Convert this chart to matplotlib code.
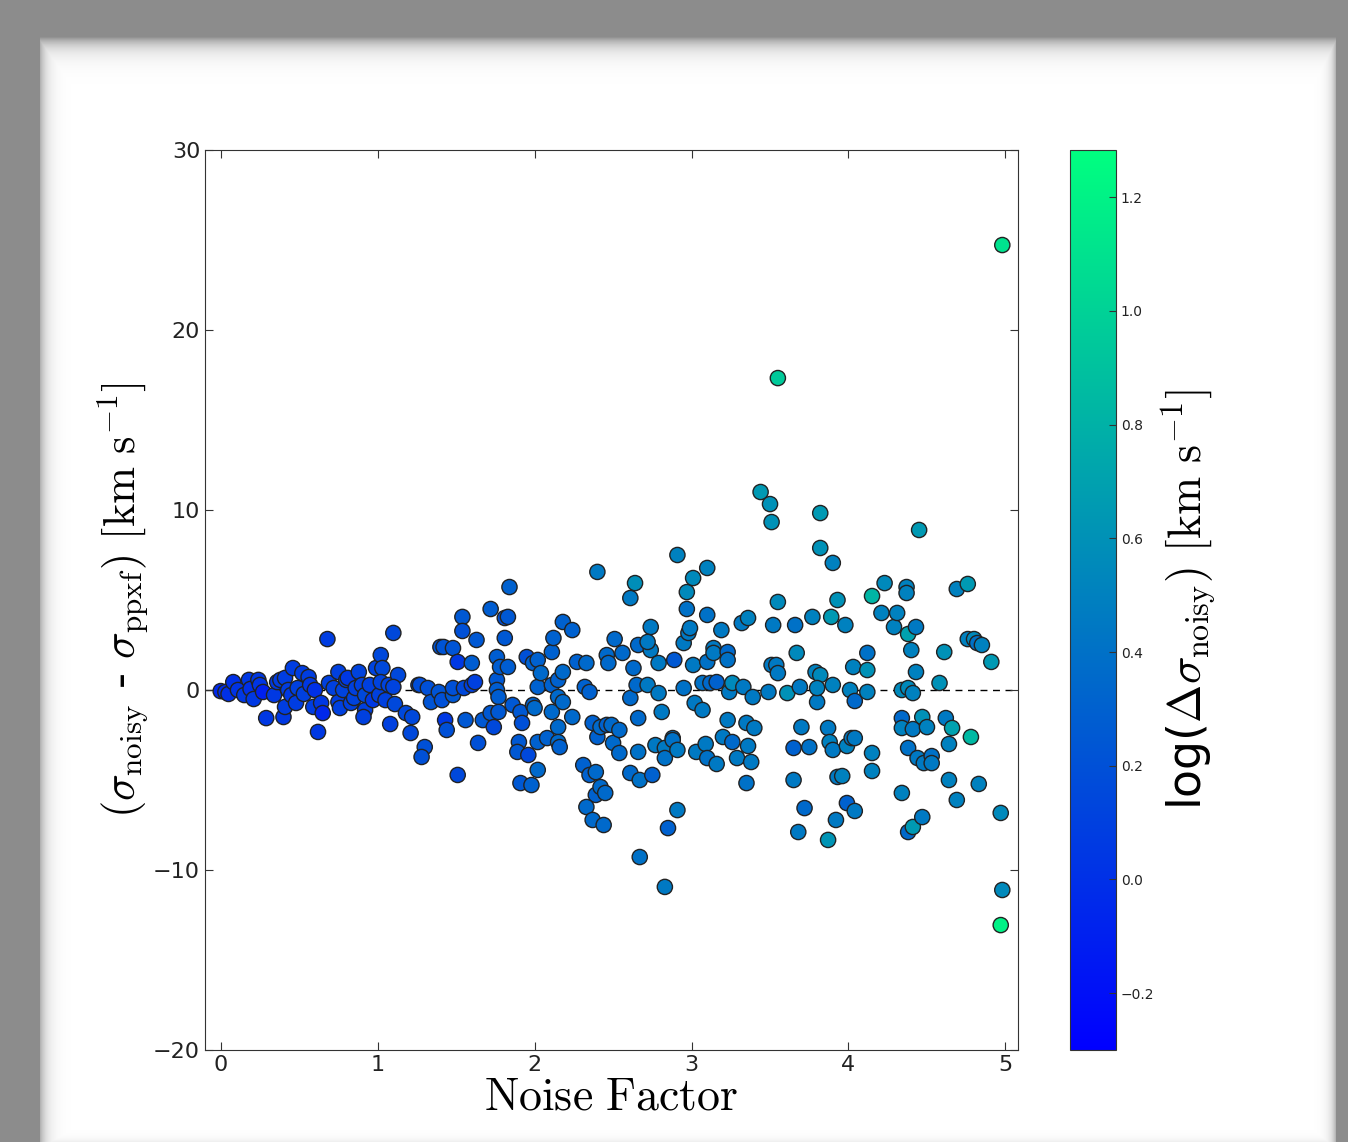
import numpy as np
import matplotlib
matplotlib.use('Agg')
import matplotlib.pyplot as plt

plt.rcParams['mathtext.fontset'] = 'cm'
plt.rcParams['font.family'] = 'DejaVu Sans'

# noise factor, (sigma_noisy - sigma_ppxf) [km/s], log(delta sigma_noisy)
pts = [
    (0.00, -0.06, -0.05), (0.03, -0.11, -0.02), (0.05, -0.22, 0.00), (0.08, 0.44, 0.00),
    (0.11, 0.00, 0.02), (0.15, -0.28, 0.05), (0.18, 0.56, 0.05), (0.19, 0.06, 0.00),
    (0.21, -0.50, 0.05), (0.24, 0.56, 0.05), (0.25, 0.28, 0.03), (0.27, -0.11, -0.10),
    (0.29, -1.56, 0.05), (0.34, -0.28, 0.05), (0.36, 0.44, 0.05), (0.38, 0.56, 0.08),
    (0.40, -1.50, 0.05), (0.41, 0.67, 0.08), (0.41, -0.94, 0.08), (0.43, 0.00, 0.08),
    (0.45, -0.28, 0.05), (0.46, 1.22, 0.08), (0.48, -0.72, 0.08), (0.49, 0.11, 0.10),
    (0.52, 0.94, 0.08), (0.53, -0.22, 0.10), (0.56, 0.72, 0.08), (0.57, 0.28, 0.05),
    (0.59, -0.94, 0.08), (0.60, 0.00, 0.00), (0.62, -2.33, 0.05), (0.64, -0.72, 0.05),
    (0.65, -1.28, -0.05), (0.68, 2.83, 0.08), (0.69, 0.39, 0.10), (0.72, 0.11, 0.10),
    (0.75, 1.00, 0.10), (0.75, -0.67, 0.08), (0.76, -1.00, 0.10), (0.78, 0.00, 0.12),
    (0.80, 0.56, 0.10), (0.81, 0.67, 0.05), (0.83, -0.72, 0.10), (0.85, -0.44, 0.12),
    (0.86, 0.11, 0.10), (0.88, 1.00, 0.12), (0.90, 0.28, 0.10), (0.92, -1.11, 0.10),
    (0.91, -1.50, 0.10), (0.92, -0.28, 0.15), (0.95, 0.28, 0.10), (0.97, -0.56, 0.05),
    (0.99, 1.22, 0.12), (1.01, -0.28, 0.10), (1.02, 1.94, 0.15), (1.03, 1.22, 0.15),
    (1.02, 0.44, 0.12), (1.05, -0.56, 0.10), (1.07, 0.28, 0.12), (1.08, -1.89, 0.10),
    (1.10, 3.17, 0.15), (1.11, -0.78, 0.15), (1.13, 0.83, 0.15), (1.10, 0.17, 0.12),
    (1.18, -1.28, 0.15), (1.21, -2.39, 0.15), (1.22, -1.50, 0.15), (1.26, 0.28, 0.15),
    (1.27, 0.28, 0.18), (1.30, -3.17, 0.20), (1.28, -3.72, 0.20), (1.32, 0.11, 0.20),
    (1.34, -0.67, 0.22), (1.39, -0.11, 0.22), (1.40, 2.39, 0.22), (1.42, 2.39, 0.22),
    (1.41, -0.56, 0.20), (1.43, -1.67, 0.05), (1.44, -2.22, 0.20), (1.48, 2.33, 0.22),
    (1.48, -0.28, 0.25), (1.48, 0.11, 0.20), (1.51, 1.56, 0.05), (1.51, -4.72, 0.15),
    (1.54, 4.06, 0.25), (1.54, 3.28, 0.20), (1.55, 0.11, 0.15), (1.56, -1.67, 0.25),
    (1.60, 1.50, 0.28), (1.60, 0.28, 0.10), (1.62, 0.44, 0.10), (1.63, 2.78, 0.25),
    (1.64, -2.94, 0.20), (1.67, -1.67, 0.25), (1.72, 4.50, 0.28), (1.72, -1.28, 0.25),
    (1.74, -2.06, 0.15), (1.76, 1.83, 0.28), (1.76, 0.56, 0.25), (1.76, 0.00, 0.28),
    (1.77, -0.39, 0.28), (1.77, -1.22, 0.25), (1.78, 1.28, 0.28), (1.81, 2.89, 0.25),
    (1.81, 4.00, 0.20), (1.83, 4.06, 0.25), (1.83, 1.28, 0.28), (1.84, 5.72, 0.30),
    (1.86, -0.83, 0.25), (1.90, -2.89, 0.25), (1.89, -3.44, 0.25), (1.91, -1.22, 0.25),
    (1.92, -1.83, 0.20), (1.91, -5.17, 0.25), (1.95, 1.83, 0.20), (1.96, -3.61, 0.15),
    (1.98, -5.28, 0.30), (1.99, 1.50, 0.30), (1.99, -0.83, 0.30), (2.00, -1.00, 0.35),
    (2.02, 0.17, 0.30), (2.02, -4.44, 0.35), (2.02, 1.67, 0.30), (2.04, 0.94, 0.35),
    (2.02, -2.89, 0.30), (2.08, -2.67, 0.30), (2.11, 0.28, 0.30), (2.11, -1.22, 0.35),
    (2.11, 2.11, 0.30), (2.12, 2.89, 0.30), (2.15, 0.56, 0.30), (2.15, -0.39, 0.35),
    (2.15, -2.06, 0.35), (2.15, -2.89, 0.35), (2.16, -3.17, 0.30), (2.18, -0.67, 0.35),
    (2.18, 1.00, 0.35), (2.18, 3.78, 0.30), (2.24, 3.33, 0.30), (2.24, -1.50, 0.35),
    (2.27, 1.56, 0.30), (2.31, -4.17, 0.30), (2.32, 0.17, 0.30), (2.33, 1.50, 0.35),
    (2.35, -0.11, 0.30), (2.35, -4.72, 0.30), (2.37, -1.83, 0.30), (2.39, -4.56, 0.35),
    (2.39, -5.83, 0.30), (2.40, -2.61, 0.30), (2.42, -5.39, 0.35), (2.42, -2.06, 0.35),
    (2.45, -5.72, 0.35), (2.33, -6.50, 0.35), (2.37, -7.22, 0.35), (2.44, -7.50, 0.35),
    (2.46, -1.94, 0.30), (2.46, 1.94, 0.35), (2.47, 1.50, 0.35), (2.49, -1.94, 0.35),
    (2.50, -2.94, 0.35), (2.51, 2.83, 0.35), (2.54, -3.50, 0.35), (2.54, -2.22, 0.35),
    (2.56, 2.06, 0.35), (2.61, 5.11, 0.45), (2.64, 5.94, 0.58), (2.40, 6.56, 0.45),
    (2.61, -0.44, 0.35), (2.61, -4.61, 0.35), (2.63, 1.22, 0.35), (2.65, 0.28, 0.35),
    (2.66, 2.50, 0.35), (2.66, -1.56, 0.35), (2.67, -9.28, 0.40), (2.66, -3.44, 0.40),
    (2.67, -5.00, 0.40), (2.72, 0.28, 0.45), (2.74, 3.50, 0.45), (2.74, 2.22, 0.45),
    (2.72, 2.67, 0.45), (2.77, -3.06, 0.45), (2.75, -4.72, 0.30), (2.79, 1.50, 0.45),
    (2.79, -0.17, 0.45), (2.81, -1.22, 0.45), (2.83, -3.22, 0.45), (2.83, -3.78, 0.40),
    (2.83, -10.94, 0.45), (2.85, -7.67, 0.30), (2.88, -2.67, 0.40), (2.88, -2.78, 0.40),
    (2.91, -3.33, 0.45), (2.91, -6.67, 0.45), (2.91, 7.50, 0.50), (2.89, 1.67, 0.25),
    (2.95, 0.11, 0.40), (2.95, 2.61, 0.45), (2.97, 4.50, 0.40), (2.97, 5.44, 0.55),
    (2.98, 3.17, 0.45), (2.99, 3.44, 0.45), (3.01, 6.22, 0.55), (3.01, 1.39, 0.45),
    (3.02, -0.72, 0.45), (3.03, -3.44, 0.45), (3.07, 0.39, 0.40), (3.07, -1.11, 0.45),
    (3.09, -3.00, 0.45), (3.10, -3.78, 0.40), (3.10, 4.17, 0.40), (3.10, 6.78, 0.50),
    (3.10, 1.56, 0.40), (3.12, 0.39, 0.35), (3.14, 2.33, 0.45), (3.14, 2.06, 0.45),
    (3.16, 0.44, 0.30), (3.16, -4.11, 0.45), (3.19, 3.33, 0.45), (3.20, -2.61, 0.45),
    (3.23, -1.67, 0.45), (3.23, 2.11, 0.35), (3.23, 1.67, 0.40), (3.24, -0.11, 0.45),
    (3.26, -2.89, 0.35), (3.26, 0.39, 0.55), (3.29, -3.78, 0.45), (3.32, 3.72, 0.45),
    (3.33, 0.17, 0.45), (3.35, -1.83, 0.45), (3.36, 4.00, 0.50), (3.36, -3.11, 0.45),
    (3.38, -4.00, 0.45), (3.35, -5.17, 0.40), (3.39, -0.39, 0.45), (3.40, -2.11, 0.45),
    (3.49, -0.11, 0.45), (3.52, 3.61, 0.45), (3.51, 1.39, 0.45), (3.54, 1.39, 0.45),
    (3.55, 4.89, 0.55), (3.55, 0.94, 0.45), (3.61, -0.17, 0.60), (3.65, -3.22, 0.30),
    (3.65, -5.00, 0.45), (3.66, 3.61, 0.40), (3.67, 2.06, 0.55), (3.68, -7.89, 0.45),
    (3.69, 0.17, 0.45), (3.70, -2.06, 0.45), (3.72, -6.56, 0.35), (3.75, -3.17, 0.40),
    (3.77, 4.06, 0.50), (3.79, 1.00, 0.50), (3.80, -0.67, 0.45), (3.82, 0.83, 0.55),
    (3.82, 7.89, 0.60), (3.80, 0.11, 0.50), (3.87, -2.11, 0.45), (3.88, -2.89, 0.50),
    (3.87, -8.33, 0.62), (3.89, 4.06, 0.65), (3.90, -3.33, 0.45), (3.90, 0.28, 0.50),
    (3.90, 7.06, 0.50), (3.93, 5.00, 0.60), (3.92, -7.22, 0.45), (3.93, -4.83, 0.45),
    (3.82, 9.83, 0.65), (3.98, 3.61, 0.50), (3.99, -3.11, 0.50), (4.02, -2.67, 0.45),
    (4.04, -2.67, 0.45), (3.96, -4.78, 0.50), (3.99, -6.28, 0.30), (4.04, -6.72, 0.45),
    (4.01, 0.00, 0.50), (4.03, 1.28, 0.50), (4.04, -0.61, 0.35), (4.12, 2.06, 0.40),
    (4.12, 1.11, 0.60), (4.12, -0.11, 0.50), (4.15, 5.22, 0.82), (4.15, -3.50, 0.50),
    (4.15, -4.50, 0.50), (4.21, 4.28, 0.50), (4.23, 5.94, 0.55), (4.29, 3.50, 0.50),
    (4.31, 4.28, 0.50), (4.34, -5.72, 0.50), (4.34, 0.00, 0.55), (4.34, -1.56, 0.35),
    (4.34, -2.11, 0.50), (4.37, 5.72, 0.50), (4.37, 5.39, 0.50), (4.38, 3.11, 0.70),
    (4.38, 0.11, 0.55), (4.38, -3.22, 0.40), (4.38, -7.89, 0.35), (4.41, -0.17, 0.50),
    (4.41, -2.17, 0.45), (4.41, -7.61, 0.65), (4.40, 2.22, 0.50), (4.43, 3.50, 0.45),
    (4.43, 1.00, 0.50), (4.44, -3.78, 0.45), (4.47, -7.06, 0.45), (4.47, -1.50, 0.60),
    (4.48, -4.06, 0.45), (4.50, -2.06, 0.50), (4.53, -3.67, 0.40), (4.53, -4.06, 0.45),
    (4.45, 8.89, 0.65), (4.58, 0.39, 0.60), (4.61, 2.11, 0.60), (4.62, -1.56, 0.45),
    (4.64, -5.00, 0.50), (4.64, -3.00, 0.50), (4.66, -2.11, 0.70), (4.69, 5.61, 0.50),
    (4.69, -6.11, 0.50), (4.76, 5.89, 0.65), (4.76, 2.83, 0.50), (4.80, 2.83, 0.55),
    (4.82, 2.61, 0.40), (4.85, 2.50, 0.50), (4.78, -2.61, 0.85), (4.83, -5.22, 0.50),
    (4.91, 1.56, 0.65), (4.97, -6.83, 0.55), (4.98, -11.11, 0.55), (4.97, -13.06, 1.20),
    (4.98, 24.72, 1.10), (3.55, 17.33, 0.95), (3.44, 11.00, 0.65), (3.50, 10.33, 0.60),
    (3.51, 9.33, 0.60),
]
noise_factor = np.array([p[0] for p in pts])
dsigma = np.array([p[1] for p in pts])
log_err = np.array([p[2] for p in pts])

xticks = [0, 1, 2, 3, 4, 5]
yticks = [-20, -10, 0, 10, 20, 30]
cticks = [-0.2, 0.0, 0.2, 0.4, 0.6, 0.8, 1.0, 1.2]

W, H = 1348, 1142
fig = plt.figure(figsize=(W / 100, H / 100), dpi=100)
fig.patch.set_facecolor('#8c8c8c')

# page background with soft shadow (sharp corners)
bg = fig.add_axes([0, 0, 1, 1], zorder=-10)
yy, xx = np.mgrid[0:H, 0:W].astype(float)
top = 1 - 0.42 * np.exp(-(yy - 37) / 10.0)
left = 1 - 0.30 * np.exp(-(xx - 40) / 7.0)
right = 1 - 0.35 * np.exp(-(1336 - xx) / 5.0)
bottom = 1 - 0.08 * np.exp(-(H - yy) / 4.0)
val = np.clip(np.minimum.reduce([top, left, right, bottom]), 0.55, 1.0)
val[(xx < 40) | (yy < 37) | (xx >= 1336)] = 0.55
bg.imshow(val, cmap='gray', vmin=0, vmax=1, aspect='auto', interpolation='bilinear')
bg.axis('off')

ax = fig.add_axes([205 / W, 1 - 1050 / H, 813 / W, 900 / H])
ax.axhline(0, color='k', ls='--', lw=1, dashes=(5, 4), zorder=1)
sc = ax.scatter(noise_factor, dsigma, c=log_err, cmap='winter', vmin=-0.30, vmax=1.283,
                s=120, edgecolors='#222222', linewidths=1.0, zorder=2)
ax.set_xlim(-0.1, 5.08)
ax.set_ylim(-20, 30)
ax.set_xticks(xticks)
ax.set_yticks(yticks)
ax.tick_params(direction='in', top=True, right=True, length=6, width=0.8,
               labelsize=16, colors='#333333', labelcolor='#222222')
for s in ax.spines.values():
    s.set_color('#333333')
ax.set_xlabel(r'$\mathrm{Noise\ Factor}$', fontsize=33, labelpad=0)
ax.set_ylabel(r'$(\sigma_{\rm noisy}$ - $\sigma_{\rm ppxf})\ [\mathrm{km\ s^{-1}}]$',
              fontsize=32, labelpad=2)

cax = fig.add_axes([1070 / W, 1 - 1050 / H, 46 / W, 900 / H])
cb = fig.colorbar(sc, cax=cax, ticks=cticks)
cb.ax.tick_params(direction='in', length=5, width=0.8, labelsize=10, colors='#333333',
                  labelcolor='#222222')
cb.outline.set_edgecolor('#333333')
cb.set_label(r'log($\Delta\sigma_{\rm noisy})\ [\mathrm{km\ s^{-1}}]$', fontsize=33, labelpad=4)

fig.savefig('out.png', dpi=100, facecolor=fig.get_facecolor())
